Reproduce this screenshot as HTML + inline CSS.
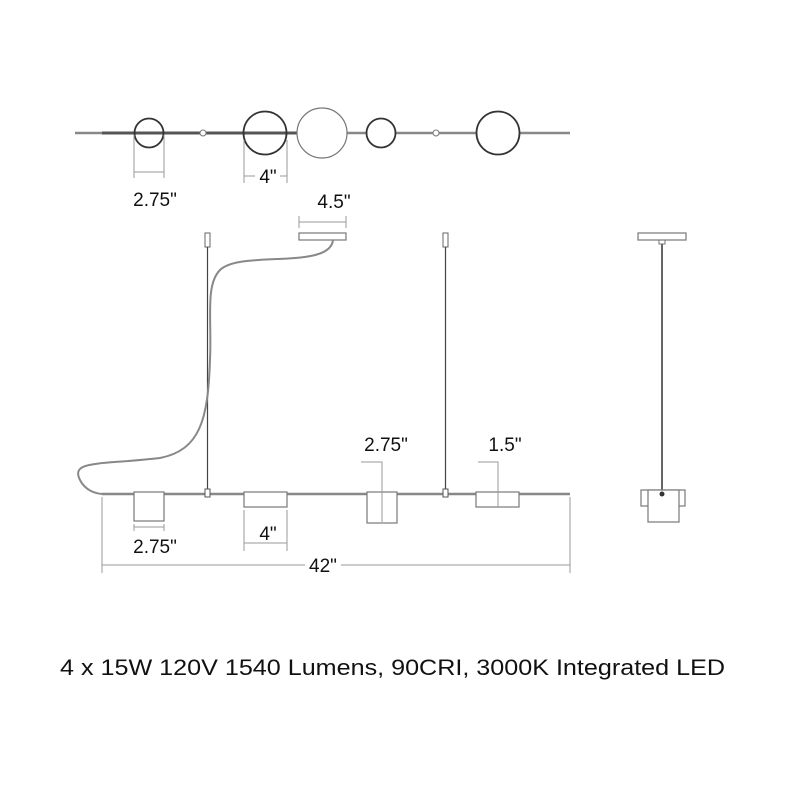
<!DOCTYPE html>
<html><head><style>body{margin:0;background:#fff}svg{display:block}</style></head><body>
<svg width="800" height="800" viewBox="0 0 800 800" xmlns="http://www.w3.org/2000/svg" font-family="Liberation Sans, sans-serif">
<g fill="none" stroke-linecap="butt">
<!-- top view -->
<line x1="75" y1="133" x2="570" y2="133" stroke="#888" stroke-width="2.5"/>
<line x1="102" y1="133" x2="298" y2="133" stroke="#555" stroke-width="3"/>
<circle cx="149" cy="133" r="14.5" stroke="#333" stroke-width="1.8" fill="none"/>
<circle cx="203" cy="133" r="3" stroke="#777" fill="#fff"/>
<circle cx="265" cy="133" r="21.5" stroke="#333" stroke-width="1.8"/>
<circle cx="322" cy="133" r="25" stroke="#777" stroke-width="1.2" fill="#fff"/>
<circle cx="381" cy="133" r="14.5" stroke="#333" stroke-width="1.8" fill="#fff"/>
<circle cx="436" cy="133" r="3" stroke="#777" fill="#fff"/>
<circle cx="498" cy="133" r="21.5" stroke="#333" stroke-width="1.8" fill="#fff"/>
<g stroke="#999" stroke-width="1">
<line x1="134" y1="135" x2="134" y2="178"/><line x1="164" y1="135" x2="164" y2="178"/><line x1="134" y1="172" x2="164" y2="172"/>
<line x1="244" y1="140" x2="244" y2="183"/><line x1="287" y1="140" x2="287" y2="183"/><line x1="244" y1="176" x2="255" y2="176"/><line x1="280" y1="176" x2="287" y2="176"/>
<line x1="299" y1="216" x2="299" y2="228"/><line x1="346" y1="216" x2="346" y2="228"/><line x1="299" y1="222" x2="346" y2="222"/>
</g>
<!-- canopy & pendants -->
<rect x="299" y="233" width="47" height="7" stroke="#777" stroke-width="1.2"/>
<rect x="205" y="233" width="5" height="14" stroke="#666"/>
<rect x="443" y="233" width="5" height="14" stroke="#666"/>
<line x1="207.5" y1="247" x2="207.5" y2="490" stroke="#444" stroke-width="1.2"/>
<line x1="445.5" y1="247" x2="445.5" y2="490" stroke="#444" stroke-width="1.2"/>
<path d="M333 240 C330 270,240 250,220 270 C205 285,212 320,210 360 C208 420,200 450,160 458 C100 465,70 460,80 480 C85 490,95 494,104 494" stroke="#888" stroke-width="2"/>
<!-- main bar -->
<line x1="102" y1="494" x2="570" y2="494" stroke="#888" stroke-width="2.5"/>
<rect x="205" y="489" width="5" height="8" stroke="#555" fill="#fff"/>
<rect x="443" y="489" width="5" height="8" stroke="#555" fill="#fff"/>
<g stroke="#777" stroke-width="1.2" fill="#fff">
<rect x="134" y="492" width="30" height="29"/>
<rect x="244" y="492" width="43" height="15"/>
<rect x="367" y="492" width="30" height="31"/>
<rect x="476" y="492" width="43" height="15"/>
</g>
<g stroke="#999" stroke-width="1">
<line x1="134" y1="527" x2="164" y2="527"/><line x1="134" y1="524" x2="134" y2="531"/><line x1="164" y1="524" x2="164" y2="531"/>
<line x1="244" y1="510" x2="244" y2="551"/><line x1="287" y1="510" x2="287" y2="551"/><line x1="244" y1="543" x2="287" y2="543"/>
<line x1="102" y1="497" x2="102" y2="573"/><line x1="570" y1="497" x2="570" y2="573"/>
<line x1="102" y1="565" x2="305" y2="565"/><line x1="341" y1="565" x2="570" y2="565"/>
<polyline points="361,462 382,462 382,522"/>
<polyline points="478,462 498,462 498,507"/>
</g>
<!-- side view -->
<rect x="638" y="233" width="48" height="7" stroke="#777" stroke-width="1.2"/>
<rect x="659" y="240" width="6" height="4" stroke="#777"/>
<line x1="662" y1="244" x2="662" y2="490" stroke="#666" stroke-width="2"/>
<rect x="641" y="490" width="44" height="16" stroke="#777" stroke-width="1.2" fill="#fff"/>
<rect x="648" y="490" width="31" height="32" stroke="#777" stroke-width="1.2" fill="#fff"/>
<circle cx="662" cy="494" r="2.5" fill="#333" stroke="none"/>
</g>
<g fill="#111" font-size="19" text-anchor="middle">
<text x="155" y="206">2.75"</text>
<text x="268" y="183">4"</text>
<text x="334" y="208">4.5"</text>
<text x="386" y="451">2.75"</text>
<text x="505" y="451">1.5"</text>
<text x="155" y="553">2.75"</text>
<text x="268" y="540">4"</text>
<text x="323" y="572">42"</text>
</g>
<text x="60" y="675" font-size="22" fill="#111" textLength="665" lengthAdjust="spacingAndGlyphs">4 x 15W 120V 1540 Lumens, 90CRI, 3000K Integrated LED</text>
</svg>
</body></html>
